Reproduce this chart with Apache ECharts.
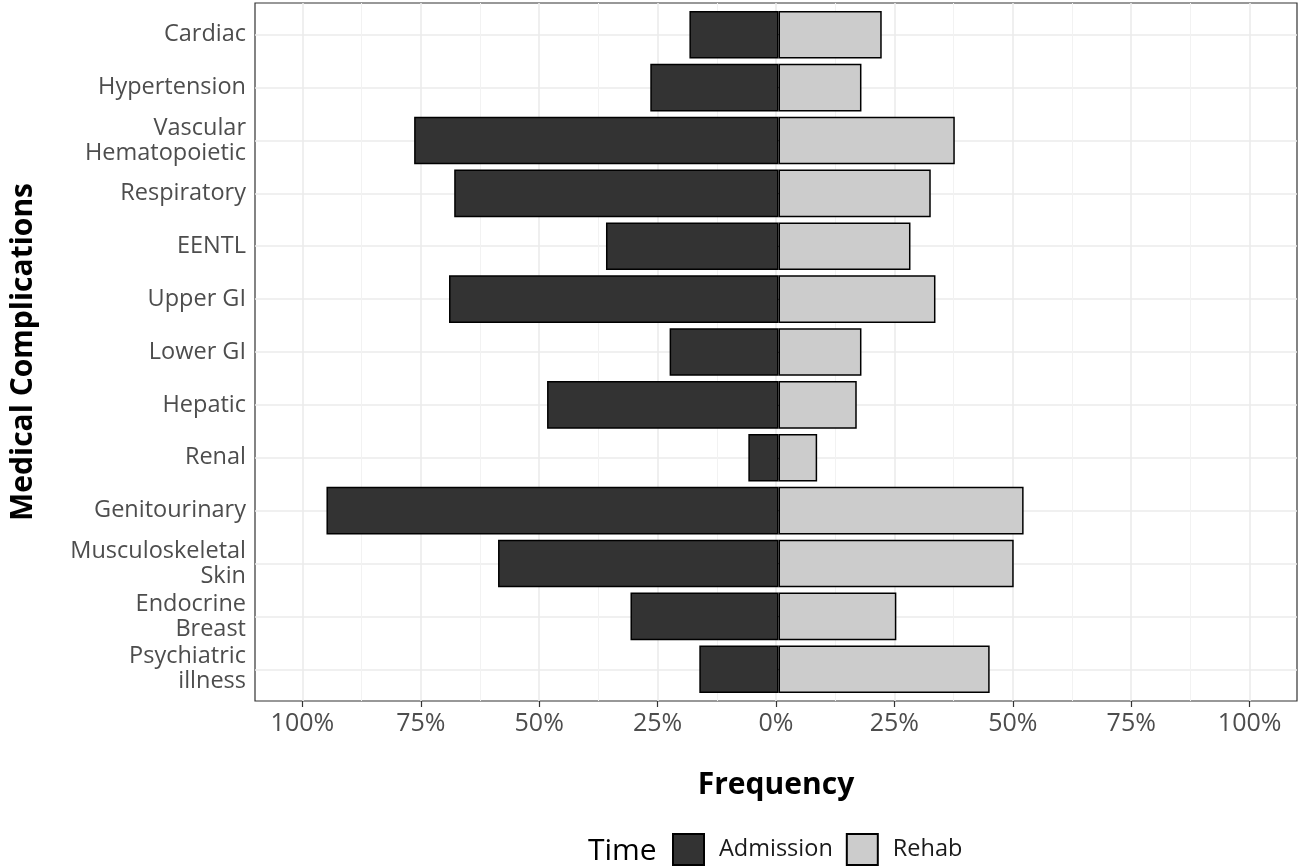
<!DOCTYPE html>
<html>
<head>
<meta charset="utf-8">
<script src="https://cdn.jsdelivr.net/npm/echarts@6/dist/echarts.min.js"></script>
<style>html,body{margin:0;padding:0;background:#fff}#c{width:1300px;height:867px}</style>
</head>
<body>
<div id="c"></div>
<script>
const categories = ['Cardiac','Hypertension','Vascular\nHematopoietic','Respiratory','EENTL','Upper GI','Lower GI','Hepatic','Renal','Genitourinary','Musculoskeletal\nSkin','Endocrine\nBreast','Psychiatric\nillness'];
const admission = [0.189, 0.272, 0.773, 0.688, 0.366, 0.699, 0.231, 0.491, 0.064, 0.959, 0.595, 0.314, 0.168];
const rehab = [0.219, 0.176, 0.374, 0.323, 0.280, 0.333, 0.176, 0.166, 0.082, 0.520, 0.499, 0.250, 0.448];
const xTickValues = [-1, -0.75, -0.5, -0.25, 0, 0.25, 0.5, 0.75, 1];
const seriesNames = ['Admission', 'Rehab'];

const FONT = '"Open Sans", "DejaVu Sans", sans-serif';
const W = 1300, H = 867;
const L = 255, R = 1297, T = 3, B = 701;
const unit = (B - T) / 13.2;
const cx = (L + R) / 2, pxu = (R - L) / 2.2;

const chart = echarts.init(document.getElementById('c'), null, {renderer: 'canvas'});
const option = {
  animation: false,
  backgroundColor: '#ffffff',
  title: {
    text: 'Time', left: 588, top: 836, padding: 0,
    textStyle: {fontFamily: FONT, fontSize: 30, fontWeight: 'normal', color: '#000'}
  },
  legend: {
    data: seriesNames, left: 672, top: 833, padding: 0,
    itemWidth: 31, itemHeight: 31, itemGap: 13, icon: 'rect',
    textStyle: {fontFamily: FONT, fontSize: 23.5, color: '#1a1a1a', padding: [0, 0, 0, 10]}
  },
  grid: [
    {left: L, right: W - R, top: T, bottom: H - B, show: true, borderColor: '#333', borderWidth: 1.2, backgroundColor: 'transparent'},
    {left: cx - pxu, right: W - (cx + pxu), top: T, bottom: H - B},
    {left: L, right: W - R, top: T + 0.6 * unit, bottom: H - (B - 0.6 * unit)},
    {left: L, right: W - R, top: T + 0.1 * unit, bottom: H - (B - 0.1 * unit)}
  ],
  xAxis: [
    {gridIndex: 0, type: 'value', show: false, min: -1.1, max: 1.1},
    {gridIndex: 1, type: 'value', min: xTickValues[0], max: xTickValues[xTickValues.length - 1], interval: 0.25,
      axisLine: {show: false},
      axisTick: {show: true, length: 6, lineStyle: {color: '#333', width: 1.2}},
      axisLabel: {fontFamily: FONT, fontSize: 25, color: '#4d4d4d', margin: 10.5,
        formatter: v => Math.round(Math.abs(v) * 100) + '%'},
      splitLine: {show: true, lineStyle: {color: '#ebebeb', width: 1.6}},
      minorTick: {show: false, splitNumber: 2},
      minorSplitLine: {show: true, lineStyle: {color: '#f2f2f2', width: 1}},
      name: 'Frequency', nameLocation: 'middle', nameGap: 69,
      nameTextStyle: {fontFamily: FONT, fontSize: 30, fontWeight: 'bold', color: '#000'}
    },
    {gridIndex: 2, type: 'value', show: false, min: -1.1, max: 1.1},
    {gridIndex: 3, type: 'value', show: false, min: -1.1, max: 1.1}
  ],
  yAxis: [
    {gridIndex: 0, type: 'value', show: false},
    {gridIndex: 1, type: 'value', show: false},
    {gridIndex: 2, type: 'value', min: 0, max: categories.length - 1, interval: 1, inverse: true,
      axisLine: {show: false}, axisTick: {show: false}, axisLabel: {show: false},
      splitLine: {show: true, lineStyle: {color: '#ebebeb', width: 1.6}}
    },
    {gridIndex: 3, type: 'category', data: categories, inverse: true,
      axisLine: {show: false},
      axisTick: {show: true, alignWithLabel: true, interval: 0, length: 6, lineStyle: {color: '#333', width: 1.2}},
      axisLabel: {fontFamily: FONT, fontSize: 23.5, color: '#4d4d4d', margin: 14, lineHeight: 25, interval: 0,
        hideOverlap: false, align: 'right', padding: [5, 0, 0, 0]},
      splitLine: {show: false},
      name: 'Medical Complications', nameLocation: 'middle', nameGap: 222, nameRotate: 90,
      nameTextStyle: {fontFamily: FONT, fontSize: 30, fontWeight: 'bold', color: '#000'}
    }
  ],
  series: [
    {name: seriesNames[0], type: 'bar', stack: 'total', xAxisIndex: 3, yAxisIndex: 3,
      barCategoryGap: '10%', data: admission.map(v => -v),
      itemStyle: {color: '#333333', borderColor: '#000', borderWidth: 1.5}},
    {name: seriesNames[1], type: 'bar', stack: 'total', xAxisIndex: 3, yAxisIndex: 3,
      barCategoryGap: '10%', data: rehab,
      itemStyle: {color: '#cccccc', borderColor: '#000', borderWidth: 1.5}}
  ]
};
chart.setOption(option);
</script>
</body>
</html>
